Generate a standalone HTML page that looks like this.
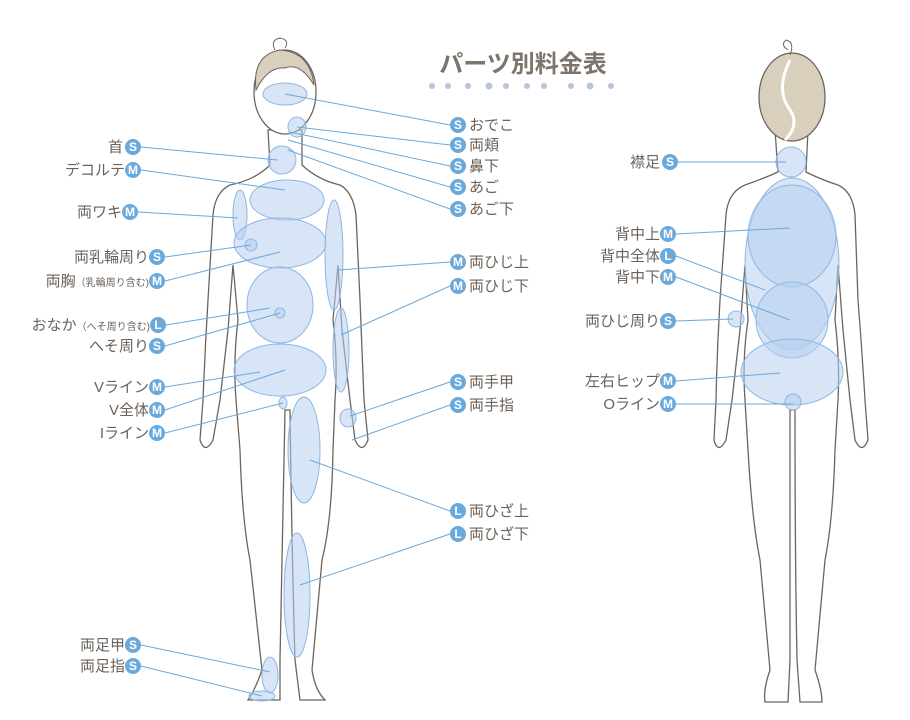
<!DOCTYPE html>
<html><head><meta charset="utf-8"><style>
body{margin:0;background:#fff;}
svg{display:block}
.t{font-family:"Liberation Sans","Noto Sans CJK JP",sans-serif;font-size:15px;fill:#6b625a;font-weight:normal}
.b{fill:#6aa9dc}
.bl{font-family:"Liberation Sans",sans-serif;font-size:12px;fill:#fff;font-weight:bold;text-anchor:middle}
.ln{stroke:#6aa9dc;stroke-width:1;fill:none}
.o{stroke:#6b6560;stroke-width:1.3;fill:#fff}
.e{fill:#b7d0ee;fill-opacity:.55;stroke:#8fb6e3;stroke-width:1}
</style></head><body>
<svg width="910" height="720" viewBox="0 0 910 720">
<path class="o" d="M268,130 L270,165 Q255,180 230,185 Q215,192 213,215 L208,300 Q205,350 203,400 L200,440 Q205,455 213,440 L220,400 L228,330 L233,265 L238,320 Q233,360 236,400 L240,450 Q242,520 250,560 L262,670 Q255,690 248,700 L280,700 L280,660 Q282,560 285,410 L290,410 Q292,560 295,660 L300,700 L325,700 Q315,690 312,670 L322,560 Q332,520 333,450 L335,400 Q338,360 333,320 L338,265 L342,330 L350,400 L355,440 Q362,455 368,440 L364,400 Q362,350 360,300 L356,215 Q353,192 340,185 Q318,180 302,165 L302,130 Z"/>
<ellipse cx="285" cy="92" rx="31" ry="42" fill="#fff" stroke="#6b6560" stroke-width="1.3"/>
<path d="M256,90 Q252,55 280,50 Q310,52 314,85 Q300,62 285,68 Q268,66 256,90Z" fill="#d8cfbd" stroke="#6b6560"/>
<path d="M275,50 Q270,40 280,38 Q290,40 285,48" fill="none" stroke="#6b6560"/>
<path class="o" d="M775,130 L778,172 Q760,180 745,185 Q728,192 726,215 L720,300 Q717,350 716,400 L714,440 Q718,455 726,440 L732,400 L740,330 L745,265 L748,320 Q742,360 745,400 L748,450 Q752,520 760,560 L770,670 Q763,690 765,702 L788,702 L790,660 Q790,560 790,410 L795,410 Q795,560 797,660 L800,702 L822,702 Q822,690 815,670 L825,560 Q833,520 835,450 L838,400 Q840,360 835,320 L838,265 L843,330 L850,400 L855,440 Q862,455 868,440 L865,400 Q862,350 858,300 L855,215 Q853,192 838,185 Q822,180 806,172 L808,130 Z"/>
<ellipse cx="792" cy="97" rx="33" ry="44" fill="#d8cfbd" stroke="#6b6560" stroke-width="1.3"/>
<path d="M790,60 Q775,90 790,110 Q800,125 785,140" fill="none" stroke="#fff" stroke-width="3"/>
<path d="M788,50 Q780,45 786,40 Q795,42 790,55" fill="none" stroke="#6b6560"/>
<ellipse class="e" cx="285" cy="94" rx="22" ry="11"/>
<ellipse class="e" cx="297" cy="127" rx="9" ry="10"/>
<ellipse class="e" cx="282" cy="160" rx="14" ry="14"/>
<ellipse class="e" cx="287" cy="200" rx="37" ry="20"/>
<ellipse class="e" cx="240" cy="215" rx="7" ry="25"/>
<ellipse class="e" cx="280" cy="243" rx="46" ry="25"/>
<circle class="e" cx="251" cy="245" r="6"/>
<ellipse class="e" cx="280" cy="305" rx="33" ry="38"/>
<circle class="e" cx="280" cy="313" r="5"/>
<ellipse class="e" cx="280" cy="370" rx="46" ry="26"/>
<ellipse class="e" cx="283" cy="403" rx="4" ry="6"/>
<ellipse class="e" cx="334" cy="255" rx="9" ry="55"/>
<ellipse class="e" cx="341" cy="350" rx="8" ry="42"/>
<ellipse class="e" cx="348" cy="418" rx="8" ry="9"/>
<ellipse class="e" cx="304" cy="450" rx="16" ry="53"/>
<ellipse class="e" cx="297" cy="595" rx="13" ry="62"/>
<ellipse class="e" cx="270" cy="675" rx="8" ry="18"/>
<ellipse class="e" cx="262" cy="696" rx="13" ry="5"/>
<circle class="e" cx="791" cy="162" r="15"/>
<ellipse class="e" cx="792" cy="264" rx="47" ry="86"/>
<ellipse class="e" cx="792" cy="236" rx="44" ry="51"/>
<ellipse class="e" cx="792" cy="320" rx="36" ry="38"/>
<circle class="e" cx="736" cy="319" r="8"/>
<ellipse class="e" cx="792" cy="372" rx="51" ry="33"/>
<circle class="e" cx="793" cy="402" r="8"/>
<text x="523" y="72" text-anchor="middle" font-family="Liberation Sans,Noto Sans CJK JP,sans-serif" font-size="24" font-weight="bold" fill="#7d746b">パーツ別料金表</text>
<g fill="#b7c6dc"><circle cx="432" cy="86" r="3"/><circle cx="448" cy="86" r="3"/><circle cx="468" cy="86" r="3"/><circle cx="489" cy="86" r="3.5"/><circle cx="506" cy="86" r="3"/><circle cx="527" cy="86" r="3"/><circle cx="544" cy="86" r="3"/><circle cx="571" cy="86" r="3"/><circle cx="590" cy="86" r="3.5"/><circle cx="611" cy="86" r="3"/></g>
<g class="ln">
<line x1="285" y1="94" x2="450" y2="125"/><line x1="297" y1="127" x2="450" y2="145"/><line x1="290" y1="132" x2="450" y2="166"/><line x1="288" y1="140" x2="450" y2="187"/><line x1="288" y1="150" x2="450" y2="209"/>
<line x1="141" y1="147" x2="278" y2="160"/><line x1="141" y1="170" x2="285" y2="190"/><line x1="138" y1="212" x2="238" y2="218"/>
<line x1="165" y1="257" x2="251" y2="245"/><line x1="165" y1="281" x2="280" y2="252"/><line x1="166" y1="325" x2="270" y2="308"/><line x1="165" y1="346" x2="280" y2="313"/>
<line x1="165" y1="387" x2="260" y2="372"/><line x1="165" y1="410" x2="285" y2="370"/><line x1="165" y1="433" x2="283" y2="403"/>
<line x1="450" y1="262" x2="338" y2="270"/><line x1="450" y1="286" x2="341" y2="335"/><line x1="450" y1="382" x2="350" y2="416"/><line x1="450" y1="405" x2="352" y2="440"/>
<line x1="450" y1="511" x2="310" y2="460"/><line x1="450" y1="534" x2="300" y2="585"/>
<line x1="141" y1="645" x2="270" y2="672"/><line x1="141" y1="666" x2="262" y2="696"/>
<line x1="676" y1="162" x2="786" y2="162"/><line x1="676" y1="234" x2="790" y2="228"/><line x1="676" y1="256" x2="765" y2="290"/><line x1="676" y1="277" x2="790" y2="320"/>
<line x1="676" y1="321" x2="733" y2="319"/><line x1="676" y1="381" x2="780" y2="373"/><line x1="676" y1="404" x2="793" y2="404"/>
</g>
<g>
<circle class="b" cx="458" cy="125" r="8"/><text class="bl" x="458" y="129">S</text><text class="t" x="469" y="130">おでこ</text>
<circle class="b" cx="458" cy="145" r="8"/><text class="bl" x="458" y="149">S</text><text class="t" x="469" y="150">両頬</text>
<circle class="b" cx="458" cy="166" r="8"/><text class="bl" x="458" y="170">S</text><text class="t" x="469" y="171">鼻下</text>
<circle class="b" cx="458" cy="187" r="8"/><text class="bl" x="458" y="191">S</text><text class="t" x="469" y="192">あご</text>
<circle class="b" cx="458" cy="209" r="8"/><text class="bl" x="458" y="213">S</text><text class="t" x="469" y="214">あご下</text>
<circle class="b" cx="458" cy="262" r="8"/><text class="bl" x="458" y="266">M</text><text class="t" x="469" y="267">両ひじ上</text>
<circle class="b" cx="458" cy="286" r="8"/><text class="bl" x="458" y="290">M</text><text class="t" x="469" y="291">両ひじ下</text>
<circle class="b" cx="458" cy="382" r="8"/><text class="bl" x="458" y="386">S</text><text class="t" x="469" y="387">両手甲</text>
<circle class="b" cx="458" cy="405" r="8"/><text class="bl" x="458" y="409">S</text><text class="t" x="469" y="410">両手指</text>
<circle class="b" cx="458" cy="511" r="8"/><text class="bl" x="458" y="515">L</text><text class="t" x="469" y="516">両ひざ上</text>
<circle class="b" cx="458" cy="534" r="8"/><text class="bl" x="458" y="538">L</text><text class="t" x="469" y="539">両ひざ下</text>
</g>
<g>
<circle class="b" cx="133" cy="147" r="8"/><text class="bl" x="133" y="151">S</text><text class="t" x="123" y="152" text-anchor="end">首</text>
<circle class="b" cx="133" cy="170" r="8"/><text class="bl" x="133" y="174">M</text><text class="t" x="125" y="175" text-anchor="end">デコルテ</text>
<circle class="b" cx="130" cy="212" r="8"/><text class="bl" x="130" y="216">M</text><text class="t" x="122" y="217" text-anchor="end">両ワキ</text>
<circle class="b" cx="157" cy="257" r="8"/><text class="bl" x="157" y="261">S</text><text class="t" x="149" y="262" text-anchor="end">両乳輪周り</text>
<circle class="b" cx="157" cy="281" r="8"/><text class="bl" x="157" y="285">M</text><text class="t" x="149" y="286" text-anchor="end"><tspan>両胸</tspan><tspan font-size="10">（乳輪周り含む)</tspan></text>
<circle class="b" cx="158" cy="325" r="8"/><text class="bl" x="158" y="329">L</text><text class="t" x="150" y="330" text-anchor="end"><tspan>おなか</tspan><tspan font-size="10">（へそ周り含む)</tspan></text>
<circle class="b" cx="157" cy="346" r="8"/><text class="bl" x="157" y="350">S</text><text class="t" x="149" y="351" text-anchor="end">へそ周り</text>
<circle class="b" cx="157" cy="387" r="8"/><text class="bl" x="157" y="391">M</text><text class="t" x="149" y="392" text-anchor="end">Vライン</text>
<circle class="b" cx="157" cy="410" r="8"/><text class="bl" x="157" y="414">M</text><text class="t" x="149" y="415" text-anchor="end">V全体</text>
<circle class="b" cx="157" cy="433" r="8"/><text class="bl" x="157" y="437">M</text><text class="t" x="149" y="438" text-anchor="end">Iライン</text>
<circle class="b" cx="133" cy="645" r="8"/><text class="bl" x="133" y="649">S</text><text class="t" x="125" y="650" text-anchor="end">両足甲</text>
<circle class="b" cx="133" cy="666" r="8"/><text class="bl" x="133" y="670">S</text><text class="t" x="125" y="671" text-anchor="end">両足指</text>
<circle class="b" cx="670" cy="162" r="8"/><text class="bl" x="670" y="166">S</text><text class="t" x="660" y="167" text-anchor="end">襟足</text>
<circle class="b" cx="668" cy="234" r="8"/><text class="bl" x="668" y="238">M</text><text class="t" x="660" y="239" text-anchor="end">背中上</text>
<circle class="b" cx="668" cy="256" r="8"/><text class="bl" x="668" y="260">L</text><text class="t" x="660" y="261" text-anchor="end">背中全体</text>
<circle class="b" cx="668" cy="277" r="8"/><text class="bl" x="668" y="281">M</text><text class="t" x="660" y="282" text-anchor="end">背中下</text>
<circle class="b" cx="668" cy="321" r="8"/><text class="bl" x="668" y="325">S</text><text class="t" x="660" y="326" text-anchor="end">両ひじ周り</text>
<circle class="b" cx="668" cy="381" r="8"/><text class="bl" x="668" y="385">M</text><text class="t" x="660" y="386" text-anchor="end">左右ヒップ</text>
<circle class="b" cx="668" cy="404" r="8"/><text class="bl" x="668" y="408">M</text><text class="t" x="660" y="409" text-anchor="end">Oライン</text>
</g>
</svg>
</body></html>
